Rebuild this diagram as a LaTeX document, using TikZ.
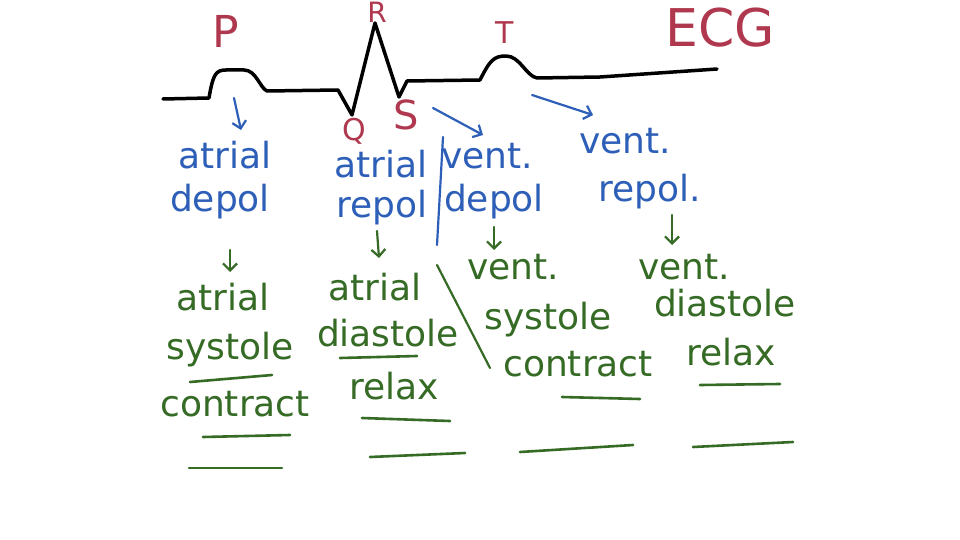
\documentclass[tikz,border=0pt]{standalone}
\usepackage{fontspec}
\setmainfont{DejaVu Sans}
\usetikzlibrary{arrows.meta}
\definecolor{ecgred}{HTML}{B0384E}
\definecolor{penblue}{HTML}{2E5FB8}
\definecolor{pengreen}{HTML}{356B25}
\begin{document}
\begin{tikzpicture}[x=1pt,y=-1pt,
  redlbl/.style={text=ecgred, inner sep=0pt},
  bluetxt/.style={text=penblue, inner sep=0pt, font=\fontsize{36}{38}\selectfont},
  greentxt/.style={text=pengreen, inner sep=0pt, font=\fontsize{36}{38}\selectfont},
  bluearrow/.style={draw=penblue, line width=2.2pt, line cap=round, -{Straight Barb[length=7pt,width=14pt]}},
  greenarrow/.style={draw=pengreen, line width=2.2pt, line cap=round, -{Straight Barb[length=7pt,width=14pt]}},
  blankline/.style={draw=pengreen, line width=2.6pt, line cap=round},
  ecgline/.style={draw=black, line width=3.5pt, line join=round, line cap=round}]
\useasboundingbox[fill=white] (0,0) rectangle (960,540);

% ECG trace
\draw[ecgline] (163,99) -- (209,98) .. controls (213,74) and (216,70) .. (226,70)
  -- (244,70) .. controls (256,70) and (260,88) .. (267,91) -- (338,90)
  -- (352,115) -- (375,23) -- (399,97) -- (407,81) -- (480,80)
  .. controls (490,60) and (494,56) .. (506,56) .. controls (520,56) and (526,76) .. (537,78)
  -- (600,77) -- (717,69);

% wave labels
\node[redlbl, font=\fontsize{44}{46}\selectfont] (P) at (226,31) {P};
\node[redlbl, font=\fontsize{28}{30}\selectfont] (R) at (377,12) {R};
\node[redlbl, font=\fontsize{30}{32}\selectfont] (T) at (505,33) {T};
\node[redlbl, font=\fontsize{30}{32}\selectfont] (Q) at (354,131) {Q};
\node[redlbl, font=\fontsize{40}{42}\selectfont] (S) at (406,115) {S};
\node[redlbl, font=\fontsize{52}{54}\selectfont] (ECG) at (720,28) {ECG};

% blue row
\node[bluetxt] (ad1) at (225,155) {atrial};
\node[bluetxt] (ad2) at (220,202) {depol};
\node[bluetxt] (ar1) at (381,164) {atrial};
\node[bluetxt] (ar2) at (382,208) {repol};
\node[bluetxt] (vd1) at (487,156) {vent.};
\node[bluetxt] (vd2) at (494,202) {depol};
\node[bluetxt] (vr1) at (625,141) {vent.};
\node[bluetxt] (vr2) at (650,192) {repol.};

\coordinate (pa1) at (234,98);  \coordinate (pa2) at (241,130);
\coordinate (sa1) at (433,108); \coordinate (sa2) at (483,135);
\coordinate (ta1) at (532,95);  \coordinate (ta2) at (593,115);
\draw[bluearrow] (pa1) -- (pa2);
\draw[bluearrow] (sa1) -- (sa2);
\draw[bluearrow] (ta1) -- (ta2);
\draw[draw=penblue, line width=2.2pt, line cap=round] (443,137) -- (437,245);

% green arrows
\coordinate (g1a) at (230,250); \coordinate (g1b) at (230,272);
\coordinate (g2a) at (377,231); \coordinate (g2b) at (379,258);
\coordinate (g3a) at (494,227); \coordinate (g3b) at (494,250);
\coordinate (g4a) at (672,215); \coordinate (g4b) at (672,245);
\draw[greenarrow] (g1a) -- (g1b);
\draw[greenarrow] (g2a) -- (g2b);
\draw[greenarrow] (g3a) -- (g3b);
\draw[greenarrow] (g4a) -- (g4b);

% green row
\node[greentxt] (as1) at (223,297) {atrial};
\node[greentxt] (as2) at (230,350) {systole};
\node[greentxt] (as3) at (235,404) {contract};
\node[greentxt] (adi1) at (375,287) {atrial};
\node[greentxt] (adi2) at (388,333) {diastole};
\node[greentxt] (adi3) at (394,386) {relax};
\node[greentxt] (vs1) at (513,267) {vent.};
\node[greentxt] (vs2) at (548,320) {systole};
\node[greentxt] (vs3) at (578,364) {contract};
\node[greentxt] (vdi1) at (684,267) {vent.};
\node[greentxt] (vdi2) at (725,303) {diastole};
\node[greentxt] (vdi3) at (731,352) {relax};
\draw[draw=pengreen, line width=2.2pt, line cap=round] (437,265) -- (490,368);

% underlines and blanks
\draw[blankline] (190,382) -- (272,375);
\draw[blankline] (340,358) -- (417,356);
\draw[blankline] (203,437) -- (290,435);
\draw[blankline] (189,468) -- (282,468);
\draw[blankline] (362,418) -- (450,421);
\draw[blankline] (370,457) -- (465,453);
\draw[blankline] (562,397) -- (640,399);
\draw[blankline] (520,452) -- (633,445);
\draw[blankline] (700,385) -- (780,384);
\draw[blankline] (693,447) -- (793,442);
\end{tikzpicture}
\end{document}
